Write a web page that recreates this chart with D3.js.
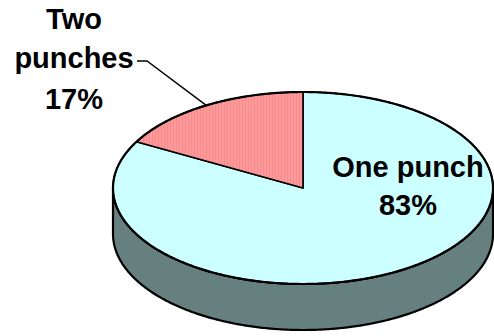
<!DOCTYPE html>
<html>
<head>
<meta charset="utf-8">
<script src="https://cdn.jsdelivr.net/npm/d3@7"></script>
<style>
  html, body { margin: 0; padding: 0; background: #ffffff; }
  svg { display: block; }
  text { font-family: "Liberation Sans", Arial, sans-serif; font-weight: bold; fill: #000; }
</style>
</head>
<body>
<script>
// Share of punches used
const categories = ["One punch", "Two punches"];
const values = [83, 17];
const sliceColors = ["#CCFFFF", "url(#pinkStripes)"];

const W = 494, H = 336;
const cx = 303, cy = 188;   // centre of the pie's top face
const rx = 190, ry = 96;    // radii of the tilted top face
const depth = 46;           // thickness of the disc
const sideColor = "#668080";

const svg = d3.select("body").append("svg")
  .attr("width", W).attr("height", H);

// Fine vertical hatching for the smaller slice
const pat = svg.append("defs").append("pattern")
  .attr("id", "pinkStripes")
  .attr("patternUnits", "userSpaceOnUse")
  .attr("width", 3).attr("height", 4);
pat.append("rect").attr("width", 3).attr("height", 4).attr("fill", "#FF9999");
pat.append("rect").attr("x", 2).attr("width", 1).attr("height", 4).attr("fill", "#F28E8E");

const pie = d3.pie().sort(null).value(d => d)(values);

// Map a pie angle (0 = 12 o'clock, clockwise) onto the tilted ellipse
const pt = (a, dy = 0) => [cx + rx * Math.sin(a), cy - ry * Math.cos(a) + dy];
const arcPoints = (a0, a1, dy = 0) => {
  const n = Math.max(2, Math.ceil(Math.abs(a1 - a0) / 0.01));
  return d3.range(n + 1).map(i => pt(a0 + (a1 - a0) * i / n, dy));
};
const line = d3.line();

// Front wall of the disc (right edge -> bottom -> left edge)
const frontTop = arcPoints(Math.PI / 2, 3 * Math.PI / 2);
const frontBottom = arcPoints(3 * Math.PI / 2, Math.PI / 2, depth);
svg.append("path")
  .attr("d", line(frontTop.concat(frontBottom)) + "Z")
  .attr("fill", sideColor)
  .attr("stroke", "#000").attr("stroke-width", 2.2)
  .attr("stroke-linejoin", "round");

// Top face slices
svg.selectAll("path.slice").data(pie).join("path")
  .attr("class", "slice")
  .attr("d", d => line([[cx, cy]].concat(arcPoints(d.startAngle, d.endAngle))) + "Z")
  .attr("fill", (d, i) => sliceColors[i])
  .attr("stroke", "#000").attr("stroke-width", 1.6)
  .attr("stroke-linejoin", "round");

// Heavier outline round the top face
svg.append("path")
  .attr("d", line(arcPoints(0, 2 * Math.PI)) + "Z")
  .attr("fill", "none")
  .attr("stroke", "#000").attr("stroke-width", 2.2);

const fmt = v => Math.round(v / d3.sum(values) * 100) + "%";

// Label inside the large slice
const big = svg.append("text").attr("text-anchor", "middle").style("font-size", "29px");
big.append("tspan").attr("x", 408).attr("y", 177).text(categories[0]);
big.append("tspan").attr("x", 408).attr("y", 215).text(fmt(values[0]));

// Label outside the small slice, with a leader line to its rim
const small = svg.append("text").attr("text-anchor", "middle").style("font-size", "29px");
const words = categories[1].split(" ");
small.append("tspan").attr("x", 74).attr("y", 29).text(words[0]);
small.append("tspan").attr("x", 74).attr("y", 68).text(words[1]);
small.append("tspan").attr("x", 74).attr("y", 109).text(fmt(values[1]));

const mid = (pie[1].startAngle + pie[1].endAngle) / 2;
const rim = pt(mid);
svg.append("path")
  .attr("d", line([[137, 61], [147, 61], rim]))
  .attr("fill", "none")
  .attr("stroke", "#000").attr("stroke-width", 1.4);
</script>
</body>
</html>
